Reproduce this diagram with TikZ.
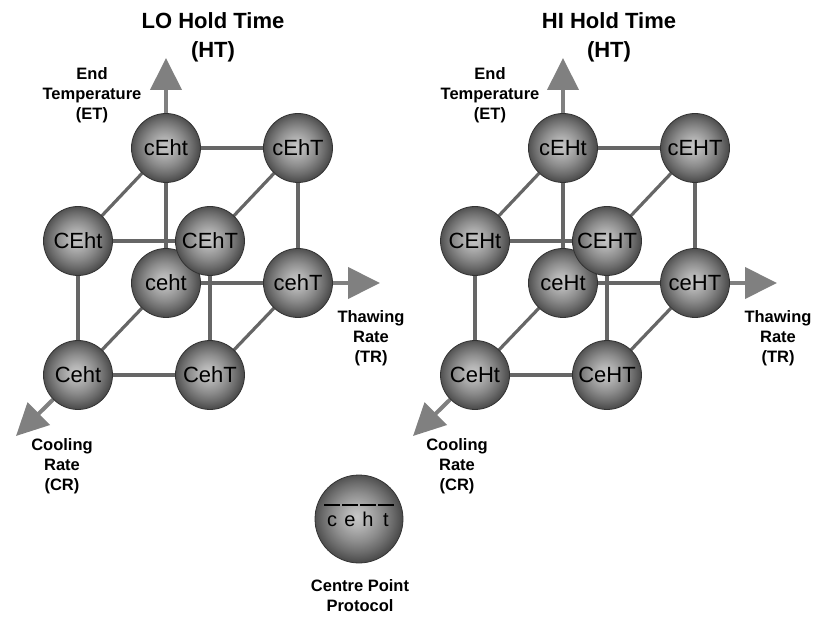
\documentclass[tikz,border=0pt]{standalone}
\usepackage{fontspec}
\setmainfont{Liberation Sans}
\usetikzlibrary{arrows.meta,backgrounds}
\pgfdeclareradialshading{sphereshade}{\pgfpoint{-1.5bp}{1.5bp}}{color(0bp)=(black!22); color(6bp)=(black!30); color(14bp)=(black!45); color(20bp)=(black!58); color(25bp)=(black!70); color(50bp)=(black!78)}
\newcommand{\ovl}[1]{\makebox[15.5pt][l]{\raisebox{20pt}[0pt][0pt]{\rule{15.5pt}{1.7pt}}\hspace{-15.5pt}\makebox[15.5pt]{#1}}}
\tikzset{
  ball/.style={circle, minimum size=69pt, inner sep=0pt, shading=sphereshade, draw=black!80, line width=0.8pt, font=\fontsize{22}{22}\selectfont},
  edgeline/.style={line width=3.2pt, draw=black!60},
  axisline/.style={line width=4pt, draw=black!50, -{Triangle[length=32pt,width=31pt]}},
  lab/.style={align=center, font=\bfseries\fontsize{16.5}{20}\selectfont},
  ttl/.style={align=center, font=\bfseries\fontsize{22}{29}\selectfont}
}
\begin{document}
\begin{tikzpicture}[x=1pt,y=-1pt]
\useasboundingbox (0,0) rectangle (814,617);
% ---------- left cube ----------
\node[ball] (L-cEht) at (166,148) {cEht};
\node[ball] (L-cEhT) at (298,148) {cEhT};
\node[ball] (L-CEht) at (78,241) {CEht};
\node[ball] (L-ceht) at (166,283) {ceht};
\node[ball] (L-cehT) at (298,283) {cehT};
\node[ball] (L-CEhT) at (210,241) {CEhT};
\node[ball] (L-Ceht) at (78,375) {Ceht};
\node[ball] (L-CehT) at (210,375) {CehT};
\coordinate (L-ET) at (166,58);
\coordinate (L-TR) at (380,283);
\coordinate (L-CR) at (16,436);
\begin{pgfonlayer}{background}
\draw[edgeline] (L-cEht) -- (L-cEhT);
\draw[edgeline] (L-cEht) -- (L-CEht);
\draw[edgeline] (L-cEhT) -- (L-CEhT);
\draw[edgeline] (L-CEht) -- (L-CEhT);
\draw[edgeline] (L-cEht) -- (L-ceht);
\draw[edgeline] (L-cEhT) -- (L-cehT);
\draw[edgeline] (L-ceht) -- (L-cehT);
\draw[edgeline] (L-CEht) -- (L-Ceht);
\draw[edgeline] (L-CEhT) -- (L-CehT);
\draw[edgeline] (L-Ceht) -- (L-CehT);
\draw[edgeline] (L-ceht) -- (L-Ceht);
\draw[edgeline] (L-cehT) -- (L-CehT);
\draw[axisline] (L-cEht) -- (L-ET);
\draw[axisline] (L-cehT) -- (L-TR);
\draw[axisline] (L-Ceht) -- (L-CR);
\end{pgfonlayer}
\node[ttl] (L-title) at (213,37) {LO Hold Time\\(HT)};
\node[lab] (L-ETlab) at (92,95) {End\\Temperature\\(ET)};
\node[lab] (L-TRlab) at (371,338) {Thawing\\Rate\\(TR)};
\node[lab] (L-CRlab) at (62,466) {Cooling\\Rate\\(CR)};
% ---------- right cube ----------
\node[ball] (R-cEHt) at (563,148) {cEHt};
\node[ball] (R-cEHT) at (695,148) {cEHT};
\node[ball] (R-CEHt) at (475,241) {CEHt};
\node[ball] (R-ceHt) at (563,283) {ceHt};
\node[ball] (R-ceHT) at (695,283) {ceHT};
\node[ball] (R-CEHT) at (607,241) {CEHT};
\node[ball] (R-CeHt) at (475,375) {CeHt};
\node[ball] (R-CeHT) at (607,375) {CeHT};
\coordinate (R-ET) at (563,58);
\coordinate (R-TR) at (777,283);
\coordinate (R-CR) at (413,436);
\begin{pgfonlayer}{background}
\draw[edgeline] (R-cEHt) -- (R-cEHT);
\draw[edgeline] (R-cEHt) -- (R-CEHt);
\draw[edgeline] (R-cEHT) -- (R-CEHT);
\draw[edgeline] (R-CEHt) -- (R-CEHT);
\draw[edgeline] (R-cEHt) -- (R-ceHt);
\draw[edgeline] (R-cEHT) -- (R-ceHT);
\draw[edgeline] (R-ceHt) -- (R-ceHT);
\draw[edgeline] (R-CEHt) -- (R-CeHt);
\draw[edgeline] (R-CEHT) -- (R-CeHT);
\draw[edgeline] (R-CeHt) -- (R-CeHT);
\draw[edgeline] (R-ceHt) -- (R-CeHt);
\draw[edgeline] (R-ceHT) -- (R-CeHT);
\draw[axisline] (R-cEHt) -- (R-ET);
\draw[axisline] (R-ceHT) -- (R-TR);
\draw[axisline] (R-CeHt) -- (R-CR);
\end{pgfonlayer}
\node[ttl] (R-title) at (609,37) {HI Hold Time\\(HT)};
\node[lab] (R-ETlab) at (490,95) {End\\Temperature\\(ET)};
\node[lab] (R-TRlab) at (778,338) {Thawing\\Rate\\(TR)};
\node[lab] (R-CRlab) at (457,466) {Cooling\\Rate\\(CR)};
% ---------- centre point ----------
\node[ball, minimum size=88pt, font=\fontsize{20}{20}\selectfont] (centre) at (359,519) {\ovl{c}\hspace{2.5pt}\ovl{e}\hspace{2.5pt}\ovl{h}\hspace{2.5pt}\ovl{t}};
\node[lab] (centrelab) at (360,596) {Centre Point\\Protocol};
\end{tikzpicture}
\end{document}
